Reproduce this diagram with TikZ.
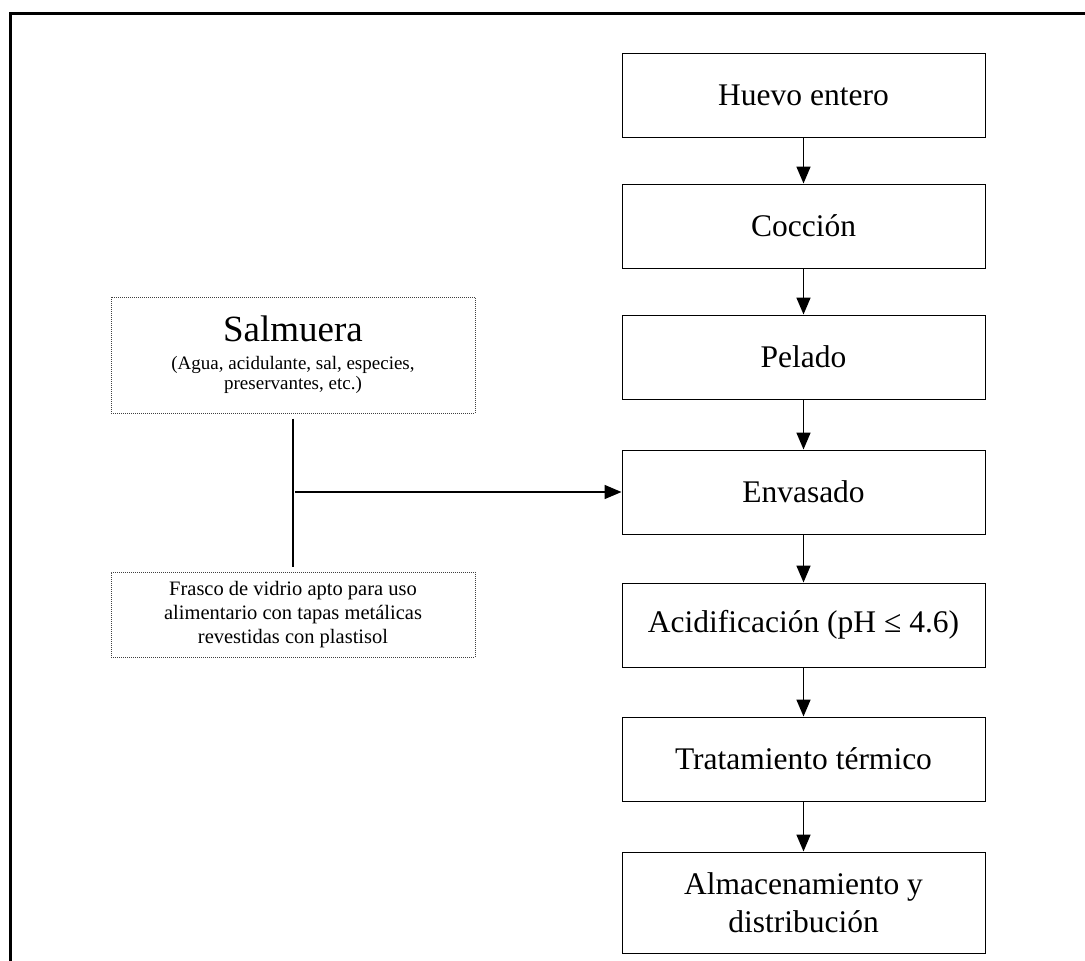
\documentclass[tikz,border=0pt]{standalone}
\usepackage{fontspec}
\setmainfont{Liberation Serif}
\usetikzlibrary{positioning,arrows.meta}

\begin{document}
\begin{tikzpicture}[x=1pt,y=-1pt,
    paso/.style={draw,line width=1pt,minimum width=363pt,minimum height=84pt,
      inner sep=2pt,align=center,font=\fontsize{31.5}{38}\selectfont},
    insumo/.style={draw=black!75,line width=1pt,dash pattern=on 1pt off 1pt,
      minimum width=364pt,inner sep=2pt,align=center},
    flecha/.style={line width=1.7pt,-{Triangle[length=17pt,width=14pt]}}]
  \useasboundingbox (0,0) rectangle (1085,961);
  \draw[line width=3pt] (10,961) -- (10,13) -- (1085,13);

  % pasos del proceso
  \node[paso] (huevo) at (803.5,95) {Huevo entero};
  \node[paso, below=46pt of huevo] (coccion) {Cocción};
  \node[paso, below=46pt of coccion] (pelado) {Pelado};
  \node[paso, below=50pt of pelado] (envasado) {Envasado};
  \node[paso, below=48pt of envasado] (acidif) {Acidificación (pH ≤ 4.6)};
  \node[paso, below=49pt of acidif] (tratam) {Tratamiento térmico};
  \node[paso, minimum height=101pt, below=50pt of tratam] (almacen)
    {Almacenamiento y\\distribución};

  % insumos
  \node[insumo, minimum height=116pt, font=\fontsize{19}{20}\selectfont] (salmuera) at (293,355)
    {\fontsize{37}{40}\selectfont Salmuera\\[8pt]
     (Agua, acidulante, sal, especies,\\preservantes, etc.)};
  \node[insumo, minimum height=85pt, font=\fontsize{20.5}{24}\selectfont, below=158pt of salmuera] (frasco)
    {Frasco de vidrio apto para uso\\alimentario con tapas metálicas\\revestidas con plastisol};

  \draw[flecha] (huevo) -- (coccion);
  \draw[flecha] (coccion) -- (pelado);
  \draw[flecha] (pelado) -- (envasado);
  \draw[flecha] (envasado) -- (acidif);
  \draw[flecha] (acidif) -- (tratam);
  \draw[flecha] (tratam) -- (almacen);

  \draw[line width=1.7pt] ([yshift=-5pt]salmuera.south) -- ([yshift=5pt]frasco.north);
  \coordinate (junta) at (salmuera.south |- envasado.west);
  \draw[flecha] ([xshift=2pt]junta) -- (envasado.west);
\end{tikzpicture}
\end{document}
